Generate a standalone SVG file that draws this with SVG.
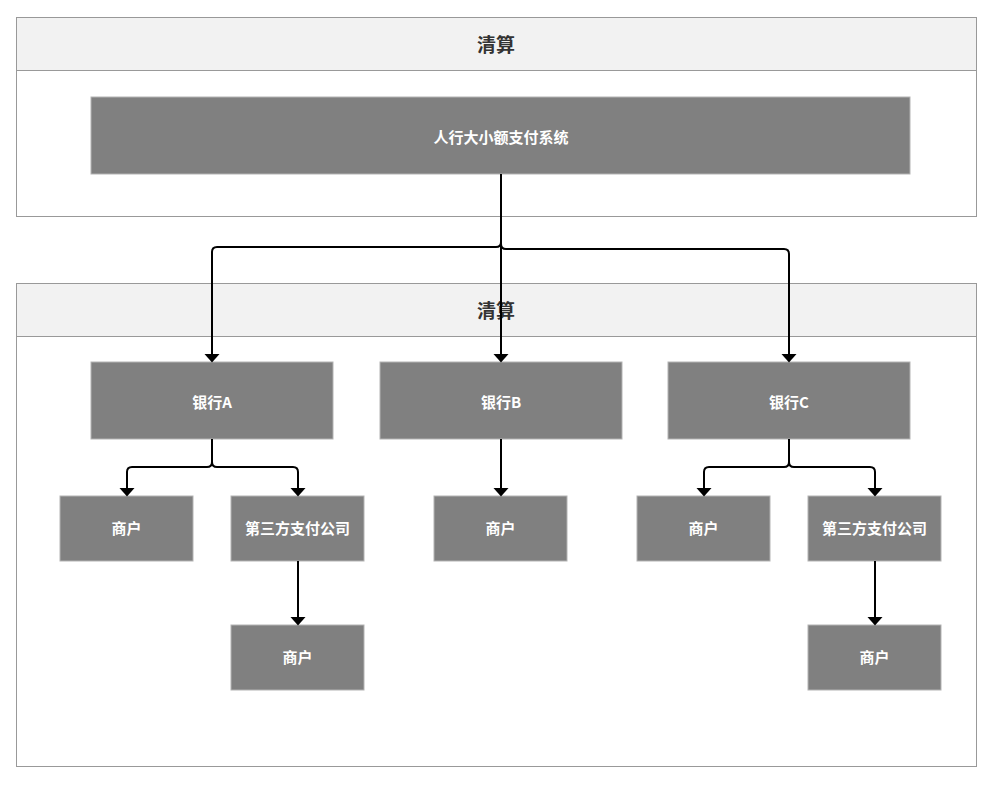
<svg xmlns="http://www.w3.org/2000/svg" width="990" height="787" viewBox="0 0 990 787">
<style>
.cont{fill:#ffffff;stroke:#999999;stroke-width:1}
.hdr{fill:#f2f2f2;stroke:#999999;stroke-width:1}
.title{font-family:"Noto Sans CJK SC","Liberation Sans",sans-serif;font-size:19px;font-weight:bold;fill:#333333;text-anchor:middle;dominant-baseline:central}
.node rect{fill:#808080;stroke:#b3b3b3;stroke-width:1}
.node text{font-family:"Noto Sans CJK SC","Liberation Sans",sans-serif;font-size:15px;font-weight:bold;fill:#ffffff;text-anchor:middle;dominant-baseline:central}
.edge{fill:none;stroke:#000000;stroke-width:2;marker-end:url(#arr)}
</style>
<defs>
<marker id="arr" markerUnits="userSpaceOnUse" markerWidth="9" markerHeight="16" viewBox="0 -8 9 16" refX="0" refY="0" orient="auto" overflow="visible">
<path d="M0,-7.5 L8.5,0 L0,7.5 z" fill="#000000"/>
</marker>
</defs>
<rect width="990" height="787" fill="#ffffff"/>
<g id="container-top">
<rect class="cont" x="16.5" y="17.5" width="960" height="199"/>
<rect class="hdr" x="16.5" y="17.5" width="960" height="53"/>
<text class="title" x="496" y="43">清算</text>
</g>
<g id="container-bottom">
<rect class="cont" x="16.5" y="283.5" width="960" height="483"/>
<rect class="hdr" x="16.5" y="283.5" width="960" height="53"/>
<text class="title" x="496" y="309">清算</text>
</g>
<g id="pbc" class="node"><rect x="91" y="97" width="819" height="77"/><text x="501" y="136">人行大小额支付系统</text></g>
<g id="bankA" class="node"><rect x="91" y="362" width="242" height="77"/><text x="212" y="401">银行A</text></g>
<g id="bankB" class="node"><rect x="380" y="362" width="242" height="77"/><text x="501" y="401">银行B</text></g>
<g id="bankC" class="node"><rect x="668" y="362" width="242" height="77"/><text x="789" y="401">银行C</text></g>
<g id="merchantA1" class="node"><rect x="60" y="496" width="133" height="65"/><text x="126.5" y="527">商户</text></g>
<g id="thirdA" class="node"><rect x="231" y="496" width="133" height="65"/><text x="297.5" y="527">第三方支付公司</text></g>
<g id="merchantA2" class="node"><rect x="231" y="625" width="133" height="65"/><text x="297.5" y="656">商户</text></g>
<g id="merchantB" class="node"><rect x="434" y="496" width="133" height="65"/><text x="500.5" y="527">商户</text></g>
<g id="merchantC1" class="node"><rect x="637" y="496" width="133" height="65"/><text x="703.5" y="527">商户</text></g>
<g id="thirdC" class="node"><rect x="808" y="496" width="133" height="65"/><text x="874.5" y="527">第三方支付公司</text></g>
<g id="merchantC2" class="node"><rect x="808" y="625" width="133" height="65"/><text x="874.5" y="656">商户</text></g>
<g id="connectors">
<path class="edge" d="M501,174 V242 Q501,247 496,247 H217 Q212,247 212,252 V354"/>
<path class="edge" d="M501,174 V354"/>
<path class="edge" d="M501,174 V244 Q501,249 506,249 H784 Q789,249 789,254 V354"/>
<path class="edge" d="M212,439 V462 Q212,467 207,467 H132 Q127,467 127,472 V488"/>
<path class="edge" d="M212,439 V462 Q212,467 217,467 H293 Q298,467 298,472 V488"/>
<path class="edge" d="M501,439 V488"/>
<path class="edge" d="M789,439 V462 Q789,467 784,467 H709 Q704,467 704,472 V488"/>
<path class="edge" d="M789,439 V462 Q789,467 794,467 H870 Q875,467 875,472 V488"/>
<path class="edge" d="M298,561 V617"/>
<path class="edge" d="M875,561 V617"/>
</g>
</svg>
